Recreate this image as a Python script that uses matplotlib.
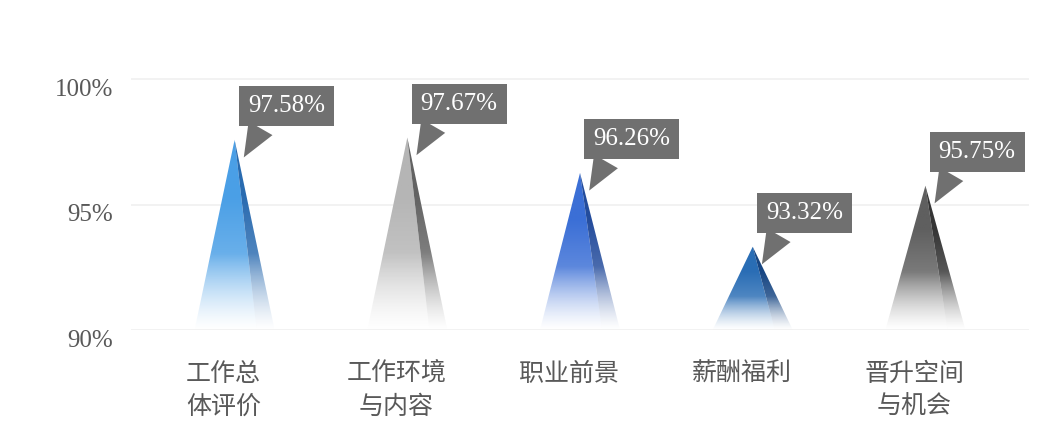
import numpy as np
import matplotlib
matplotlib.use('Agg')
import matplotlib.pyplot as plt
from matplotlib.patches import Polygon
from matplotlib.colors import to_rgb
from matplotlib.transforms import ScaledTranslation

# Datos
categorias = ['工作总\n体评价', '工作环境\n与内容', '职业前景', '薪酬福利', '晋升空间\n与机会']
valores = [97.58, 97.67, 96.26, 93.32, 95.75]
etiquetas = ['97.58%', '97.67%', '96.26%', '93.32%', '95.75%']
ticks_y = [90, 95, 100]
ticks_y_txt = ['90%', '95%', '100%']

# Colores de las pirámides (cara izquierda, cara derecha)
col_izq = ['#4a9fe6', '#b5b5b5', '#3b6fd6', '#2a6db5', '#5f5f5f']
col_der = ['#2a6bb0', '#636363', '#244c9c', '#174683', '#353535']

fig = plt.figure(figsize=(10.59, 4.45), dpi=100)
ax = fig.add_axes([0.1237, 0.2584, 0.848, 0.5809])

base = 90
hw = 0.232   # media anchura de la base
d = 0.128    # posición de la arista central en la base


def cara(xs, v, color):
    # imagen con degradado vertical recortada por el triángulo
    n = 200
    t = np.linspace(0, 1, n)
    alpha = np.clip(t / 0.4, 0, 1) ** 1.2
    rgb = np.array(to_rgb(color))
    mezcla = 0.6 + 0.4 * np.clip(t / 0.7, 0, 1)
    img = np.ones((n, 1, 4))
    img[:, 0, :3] = 1 - (1 - rgb) * mezcla[:, None]
    img[:, 0, 3] = alpha
    im = ax.imshow(img, extent=(min(p[0] for p in xs), max(p[0] for p in xs), base, v),
                   origin='lower', aspect='auto', interpolation='bilinear', zorder=2)
    poly = Polygon(xs, closed=True, transform=ax.transData)
    im.set_clip_path(poly)


for i, v in enumerate(valores):
    cara([(i - hw, base), (i + d, base), (i, v)], v, col_izq[i])
    cara([(i + d, base), (i + hw, base), (i, v)], v, col_der[i])

    ax.annotate(etiquetas[i], xy=(i + 0.045, v - 0.8), xycoords='data',
                xytext=(44, 54), textcoords='offset pixels',
                ha='center', va='center', color='white', fontsize=18,
                family='Liberation Serif', zorder=5,
                bbox=dict(boxstyle='square,pad=0.36', fc='#707070', ec='none'),
                arrowprops=dict(arrowstyle='wedge,tail_width=1.1,shrink_factor=0.5',
                                fc='#707070', ec='none', relpos=(0.25, 0.0)))

ax.set_xlim(-0.6, 4.6)
ax.set_ylim(90, 100.3)
ax.set_yticks(ticks_y)
ax.set_yticklabels(ticks_y_txt, family='Liberation Serif', fontsize=18, color='#595959')
ax.set_xticks(range(len(categorias)))
ax.set_xticklabels(categorias, family=['Noto Sans CJK SC', 'DejaVu Sans'], fontsize=18,
                   color='#595959', linespacing=1.35)
ax.tick_params(axis='both', length=0)
ax.tick_params(axis='y', pad=13)
ax.tick_params(axis='x', pad=22)

# desplazar etiquetas como en el original
for lab in ax.get_yticklabels():
    lab.set_transform(lab.get_transform() + ScaledTranslation(0, -8 / 100, fig.dpi_scale_trans))
for lab in ax.get_xticklabels():
    lab.set_transform(lab.get_transform() + ScaledTranslation(-11 / 100, 0, fig.dpi_scale_trans))

ax.grid(axis='y', color='#f0f0f0', linewidth=1.2, zorder=0)
ax.set_axisbelow(True)
for s in ax.spines.values():
    s.set_visible(False)

plt.savefig('out.png', dpi=100)
